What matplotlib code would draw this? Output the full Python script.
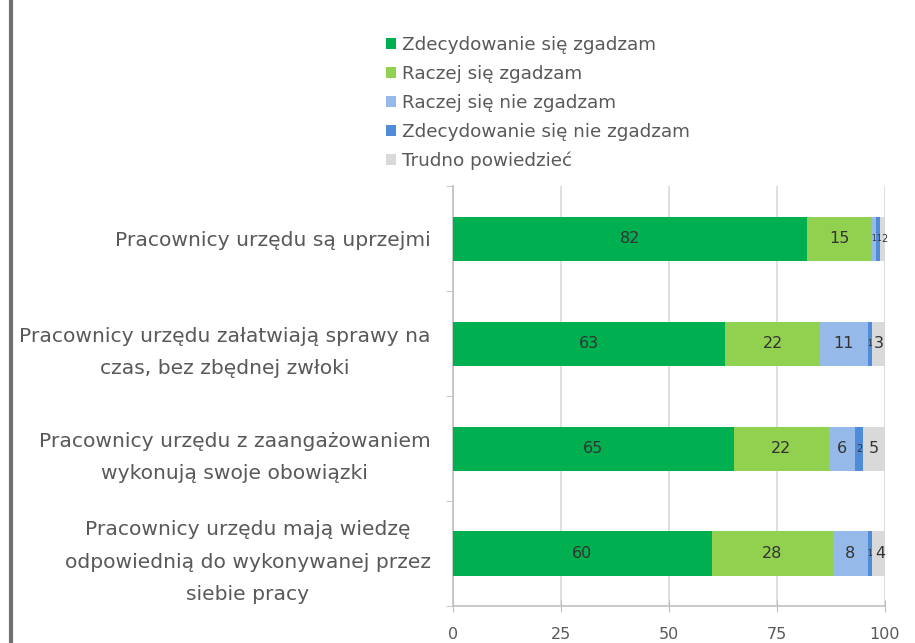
import matplotlib.pyplot as plt
import numpy as np

plt.rcParams['font.family'] = ['DejaVu Sans']

categories = ['Pracownicy urzędu są uprzejmi',
              'Pracownicy urzędu załatwiają sprawy na\nczas, bez zbędnej zwłoki',
              'Pracownicy urzędu z zaangażowaniem\nwykonują swoje obowiązki',
              'Pracownicy urzędu mają wiedzę\nodpowiednią do wykonywanej przez\nsiebie pracy']
series_names = ['Zdecydowanie się zgadzam', 'Raczej się zgadzam', 'Raczej się nie zgadzam',
                'Zdecydowanie się nie zgadzam', 'Trudno powiedzieć']
zdecydowanie_tak = [82, 63, 65, 60]
raczej_tak = [15, 22, 22, 28]
raczej_nie = [1, 11, 6, 8]
zdecydowanie_nie = [1, 1, 2, 1]
trudno = [2, 3, 5, 4]
x_ticks = [0, 25, 50, 75, 100]

colors = ['#00B050', '#92D050', '#95B9E8', '#4F8BD6', '#D9D9D9']
series = [zdecydowanie_tak, raczej_tak, raczej_nie, zdecydowanie_nie, trudno]

fig = plt.figure(figsize=(9.15, 6.43), dpi=100)
ax = fig.add_axes([0.495, 0.0575, 0.472, 0.653])

y = np.arange(len(categories))
left = np.zeros(len(categories))
for name, vals, c in zip(series_names, series, colors):
    vals = np.array(vals, dtype=float)
    bars = ax.barh(y, vals, left=left, height=0.42, color=c, label=name, zorder=3)
    for b, v, l in zip(bars, vals, left):
        if v >= 3:
            fs = 11.5
        elif v == 2:
            fs = 7
        else:
            fs = 5.5
        ax.text(l + v / 2, b.get_y() + b.get_height() / 2, str(int(v)),
                ha='center', va='center', fontsize=fs, color='#333333', zorder=4)
    left += vals

ax.set_xlim(0, 100)
ax.set_ylim(3.5, -0.5)
ax.set_xticks(x_ticks)
ax.set_xticklabels([str(t) for t in x_ticks])
ax.set_yticks(y)
ax.set_yticklabels(categories, fontsize=14.6, color='#595959', multialignment='center',
                   linespacing=1.9)
ax.set_yticks(np.arange(-0.5, 4, 1), minor=True)
ax.tick_params(axis='y', which='major', length=0, pad=16)
ax.tick_params(axis='y', which='minor', length=5, color='#BFBFBF', direction='out')
ax.tick_params(axis='x', length=8, direction='inout', color='#BFBFBF', labelsize=11.5,
               labelcolor='#595959', pad=11)
ax.grid(axis='x', color='#D9D9D9', linewidth=1.2, zorder=0)
for s in ['top', 'right']:
    ax.spines[s].set_visible(False)
for s in ['left', 'bottom']:
    ax.spines[s].set_color('#BFBFBF')
    ax.spines[s].set_linewidth(1.2)

leg = fig.legend(loc='upper left', bbox_to_anchor=(0.404, 0.97), frameon=False,
                 fontsize=13.2, handlelength=0.55, handleheight=0.55, handletextpad=0.3,
                 labelspacing=0.6)
for t in leg.get_texts():
    t.set_color('#595959')

# left border of chart area
fig.add_artist(plt.Line2D([0.012, 0.012], [0, 1], color='#707070', linewidth=3,
                          transform=fig.transFigure))

fig.savefig('out.png', dpi=100, facecolor='white')
